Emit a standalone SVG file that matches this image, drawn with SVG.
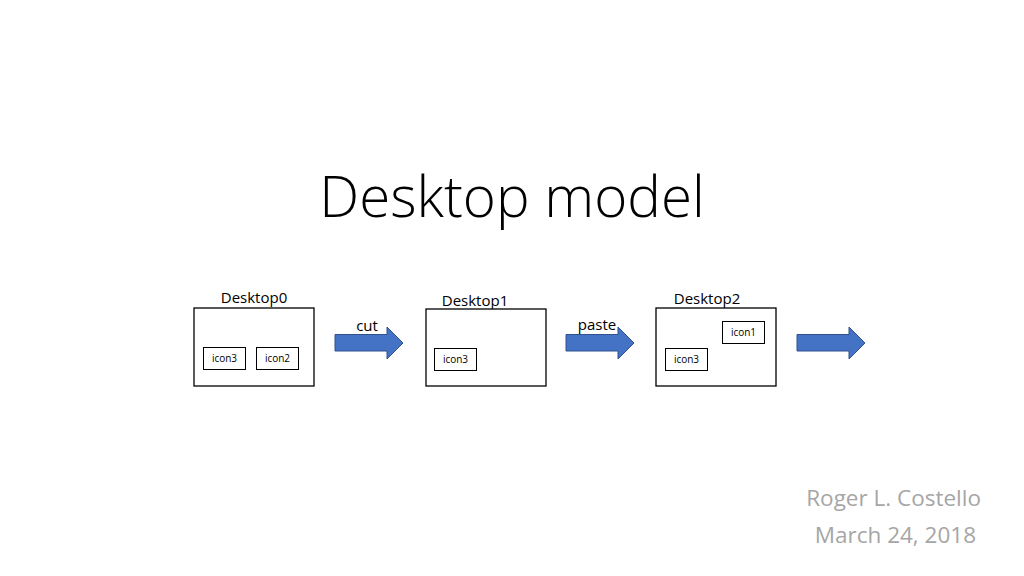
<svg xmlns="http://www.w3.org/2000/svg" width="1024" height="576" viewBox="0 0 1024 576">
<style>
.box{fill:#fff;stroke:#000;stroke-width:1.3}
.icon{fill:#fff;stroke:#000;stroke-width:1}
.lbl{font-family:"Open Sans","Liberation Sans",sans-serif;font-size:15px;fill:#000;text-anchor:middle}
.ilbl{font-family:"Open Sans","Liberation Sans",sans-serif;font-size:10px;fill:#000;text-anchor:middle}
.arrow{fill:#4472C4;stroke:#2F528F;stroke-width:1}
.foot{font-family:"Open Sans","Liberation Sans",sans-serif;font-size:22.5px;fill:#a6a6a6;text-anchor:end}
</style>
<rect width="1024" height="576" fill="#fff"/>
<text x="512" y="217" font-family="Open Sans, Liberation Sans, sans-serif" font-weight="300" font-size="56.5" text-anchor="middle" fill="#000">Desktop model</text>
<g id="desktop0">
<text class="lbl" x="254" y="303">Desktop0</text>
<rect class="box" x="194" y="308" width="120" height="78"/>
<g id="d0-icon3"><rect class="icon" x="203.5" y="347.5" width="42" height="22"/><text class="ilbl" x="224.5" y="362">icon3</text></g>
<g id="d0-icon2"><rect class="icon" x="256.5" y="347.5" width="42" height="22"/><text class="ilbl" x="277.5" y="362">icon2</text></g>
</g>
<g id="desktop1">
<text class="lbl" x="475" y="306">Desktop1</text>
<rect class="box" x="426" y="309" width="120" height="77"/>
<g id="d1-icon3"><rect class="icon" x="434.5" y="348.5" width="42" height="22"/><text class="ilbl" x="455.5" y="363">icon3</text></g>
</g>
<g id="desktop2">
<text class="lbl" x="707" y="304">Desktop2</text>
<rect class="box" x="656" y="308" width="120" height="78"/>
<g id="d2-icon1"><rect class="icon" x="722.5" y="321.5" width="42" height="22"/><text class="ilbl" x="743.5" y="336">icon1</text></g>
<g id="d2-icon3"><rect class="icon" x="665.5" y="348.5" width="42" height="22"/><text class="ilbl" x="686.5" y="363">icon3</text></g>
</g>
<g id="connectors">
<path class="arrow" d="M335,334.5 H387 V327 L403,343 L387,359 V351 H335 Z"/>
<text class="lbl" x="367" y="331">cut</text>
<path class="arrow" d="M566,334.5 H618 V327 L634,343 L618,359 V351 H566 Z"/>
<text class="lbl" x="597" y="330">paste</text>
<path class="arrow" d="M797,334.5 H849 V327 L865,343 L849,359 V351 H797 Z"/>
</g>
<text class="foot" x="981" y="506">Roger L. Costello</text>
<text class="foot" x="976" y="543">March 24, 2018</text>
</svg>
